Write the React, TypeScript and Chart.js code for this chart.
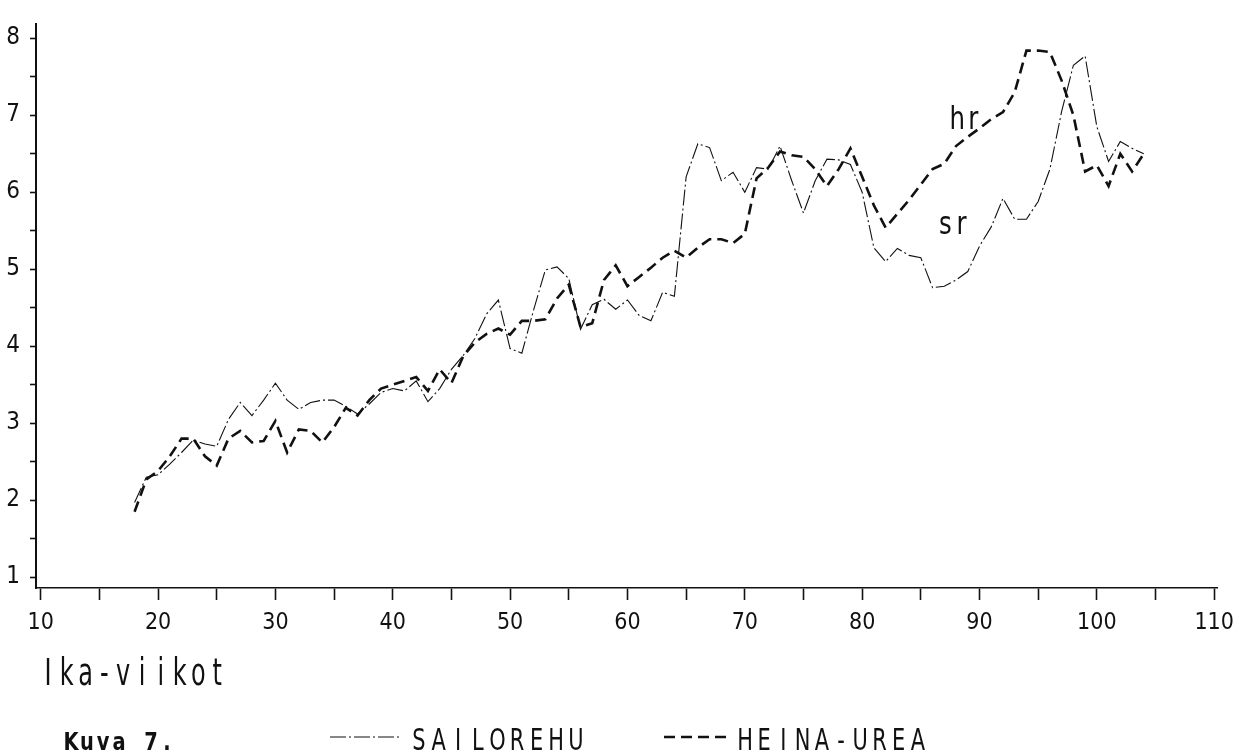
import React, { useEffect, useRef } from "react";
import { Chart, registerables } from "chart.js";

Chart.register(...registerables);

// Age in weeks
const WEEKS = [
  18, 19, 20, 21, 22, 23, 24, 25, 26, 27, 28, 29, 30, 31, 32, 33, 34, 35, 36, 37,
  38, 39, 40, 41, 42, 43, 44, 45, 46, 47, 48, 49, 50, 51, 52, 53, 54, 55, 56, 57,
  58, 59, 60, 61, 62, 63, 64, 65, 66, 67, 68, 69, 70, 71, 72, 73, 74, 75, 76, 77,
  78, 79, 80, 81, 82, 83, 84, 85, 86, 87, 88, 89, 90, 91, 92, 93, 94, 95, 96, 97,
  98, 99, 100, 101, 102, 103, 104,
];

// SAILOREHU (sr)
const SAILOREHU = [
  1.97, 2.3, 2.33, 2.47, 2.62, 2.78, 2.73, 2.7, 3.05, 3.27, 3.1, 3.3, 3.52, 3.3, 3.18, 3.27, 3.3, 3.3, 3.22, 3.12,
  3.25, 3.4, 3.45, 3.42, 3.55, 3.28, 3.45, 3.7, 3.88, 4.1, 4.42, 4.6, 3.97, 3.91, 4.47, 4.99, 5.03, 4.88, 4.22, 4.54,
  4.61, 4.48, 4.6, 4.4, 4.33, 4.7, 4.65, 6.2, 6.63, 6.58, 6.15, 6.26, 6.0, 6.32, 6.3, 6.6, 6.15, 5.73, 6.15, 6.43,
  6.42, 6.36, 6.0, 5.28, 5.1, 5.27, 5.18, 5.15, 4.76, 4.78, 4.86, 4.97, 5.3, 5.55, 5.92, 5.65, 5.65, 5.88, 6.3, 7.05,
  7.65, 7.77, 6.85, 6.4, 6.66, 6.57, 6.5,
];

// HEINA-UREA (hr)
const HEINA_UREA = [
  1.85, 2.27, 2.38, 2.57, 2.8, 2.8, 2.57, 2.45, 2.8, 2.9, 2.75, 2.77, 3.03, 2.62, 2.92, 2.9, 2.75, 2.95, 3.2, 3.1,
  3.3, 3.45, 3.5, 3.55, 3.6, 3.42, 3.7, 3.52, 3.87, 4.05, 4.16, 4.23, 4.15, 4.33, 4.33, 4.35, 4.62, 4.8, 4.25, 4.3,
  4.86, 5.05, 4.78, 4.9, 5.02, 5.15, 5.24, 5.15, 5.28, 5.39, 5.39, 5.34, 5.46, 6.18, 6.32, 6.53, 6.48, 6.46, 6.3, 6.08,
  6.3, 6.57, 6.2, 5.83, 5.54, 5.72, 5.9, 6.1, 6.3, 6.37, 6.6, 6.72, 6.83, 6.95, 7.04, 7.3, 7.84, 7.84, 7.82, 7.45,
  7.0, 6.27, 6.35, 6.08, 6.5, 6.27, 6.5,
];

const X_LABEL_STEP = 10;
const Y_LABEL_STEP = 1;

const FAMILY = '"Liberation Sans Narrow", "DejaVu Sans Condensed", "DejaVu Sans", sans-serif';
const INK = "#111";

const SR_DASH = [16, 3, 2, 3];
const HR_DASH = [11, 6];

// Draws text with a fixed character pitch and narrowed glyphs, like a pen plotter.
function drawPitched(
  ctx: CanvasRenderingContext2D,
  text: string,
  firstCenter: number,
  baseline: number,
  pitch: number,
  font: string,
  squeeze = 0.8
) {
  ctx.font = font;
  ctx.textAlign = "center";
  ctx.textBaseline = "alphabetic";
  for (let i = 0; i < text.length; i++) {
    const ch = text[i];
    if (ch === " ") continue;
    ctx.save();
    ctx.translate(firstCenter + i * pitch, baseline);
    ctx.scale(squeeze, 1);
    ctx.fillText(ch, 0, 0);
    ctx.restore();
  }
}

const captions = {
  id: "captions",
  afterDraw(chart: any) {
    const { ctx } = chart;
    const x = chart.scales.x;
    const y = chart.scales.y;
    ctx.save();
    ctx.fillStyle = INK;
    ctx.strokeStyle = INK;

    // Series tags beside the lines
    drawPitched(ctx, "hr", x.getPixelForValue(88.1), y.getPixelForValue(6.82), 16, `32px ${FAMILY}`, 0.85);
    drawPitched(ctx, "sr", x.getPixelForValue(87.1), y.getPixelForValue(5.46), 16, `32px ${FAMILY}`, 0.85);

    // Axis caption and figure number
    drawPitched(ctx, "Ika-viikot", 48, 685, 18.8, `37px ${FAMILY}`, 0.72);
    drawPitched(ctx, "Kuva 7.", 71, 750, 16, `600 24px ${FAMILY}`, 0.9);

    // Legend
    const ds = chart.data.datasets;
    ctx.lineWidth = ds[0].borderWidth;
    ctx.setLineDash(SR_DASH);
    ctx.beginPath();
    ctx.moveTo(330, 737);
    ctx.lineTo(402, 737);
    ctx.stroke();
    drawPitched(ctx, ds[0].label, 419, 750, 19.6, `31px ${FAMILY}`, 0.75);

    ctx.lineWidth = ds[1].borderWidth;
    ctx.setLineDash(HR_DASH);
    ctx.beginPath();
    ctx.moveTo(664, 737);
    ctx.lineTo(732, 737);
    ctx.stroke();
    drawPitched(ctx, ds[1].label, 745, 750, 19.2, `31px ${FAMILY}`, 0.75);

    ctx.restore();
  },
};

export default function App() {
  const canvasRef = useRef<HTMLCanvasElement | null>(null);

  useEffect(() => {
    const canvas = canvasRef.current;
    if (!canvas) return;

    const chart = new Chart(canvas, {
      type: "line",
      data: {
        datasets: [
          {
            label: "SAILOREHU",
            data: WEEKS.map((w, i) => ({ x: w, y: SAILOREHU[i] })),
            borderColor: INK,
            borderWidth: 1.1,
            borderDash: SR_DASH,
            pointRadius: 0,
            tension: 0,
            fill: false,
          },
          {
            label: "HEINA-UREA",
            data: WEEKS.map((w, i) => ({ x: w, y: HEINA_UREA[i] })),
            borderColor: INK,
            borderWidth: 2.6,
            borderDash: HR_DASH,
            pointRadius: 0,
            tension: 0,
            fill: false,
          },
        ],
      },
      options: {
        responsive: true,
        maintainAspectRatio: false,
        animation: false,
        events: [],
        layout: { padding: { top: 10, right: 18, left: 0, bottom: 0 } },
        plugins: {
          legend: { display: false },
          tooltip: { enabled: false },
          title: { display: false },
        },
        scales: {
          x: {
            type: "linear",
            min: 9.6,
            max: 110.3,
            afterFit: (s: any) => {
              s.height = 163;
            },
            border: { display: true, color: INK, width: 1.6 },
            grid: {
              drawOnChartArea: false,
              drawTicks: true,
              tickLength: 12,
              tickColor: INK,
              tickWidth: 1.6,
            },
            ticks: {
              stepSize: 5,
              includeBounds: false,
              autoSkip: false,
              maxRotation: 0,
              padding: 9,
              color: INK,
              font: { family: FAMILY, size: 23, weight: "500" },
              callback: (v: any) => (Number(v) % X_LABEL_STEP === 0 ? String(v) : ""),
            },
          },
          y: {
            type: "linear",
            min: 0.86,
            max: 8.18,
            afterFit: (s: any) => {
              s.width = 36;
            },
            border: { display: true, color: INK, width: 2 },
            grid: {
              drawOnChartArea: false,
              drawTicks: true,
              tickLength: 6,
              tickColor: INK,
              tickWidth: 1.6,
            },
            ticks: {
              stepSize: 0.5,
              includeBounds: false,
              autoSkip: false,
              padding: 10,
              color: INK,
              font: { family: FAMILY, size: 24, weight: "500" },
              callback: (v: any) => (Number(v) % Y_LABEL_STEP === 0 ? String(v) : ""),
            },
          },
        },
      },
      plugins: [captions],
    });

    return () => chart.destroy();
  }, []);

  return (
    <div
      style={{
        position: "fixed",
        left: 0,
        top: 0,
        width: 1243,
        height: 751,
        background: "#fff",
      }}
    >
      <canvas ref={canvasRef} />
    </div>
  );
}
